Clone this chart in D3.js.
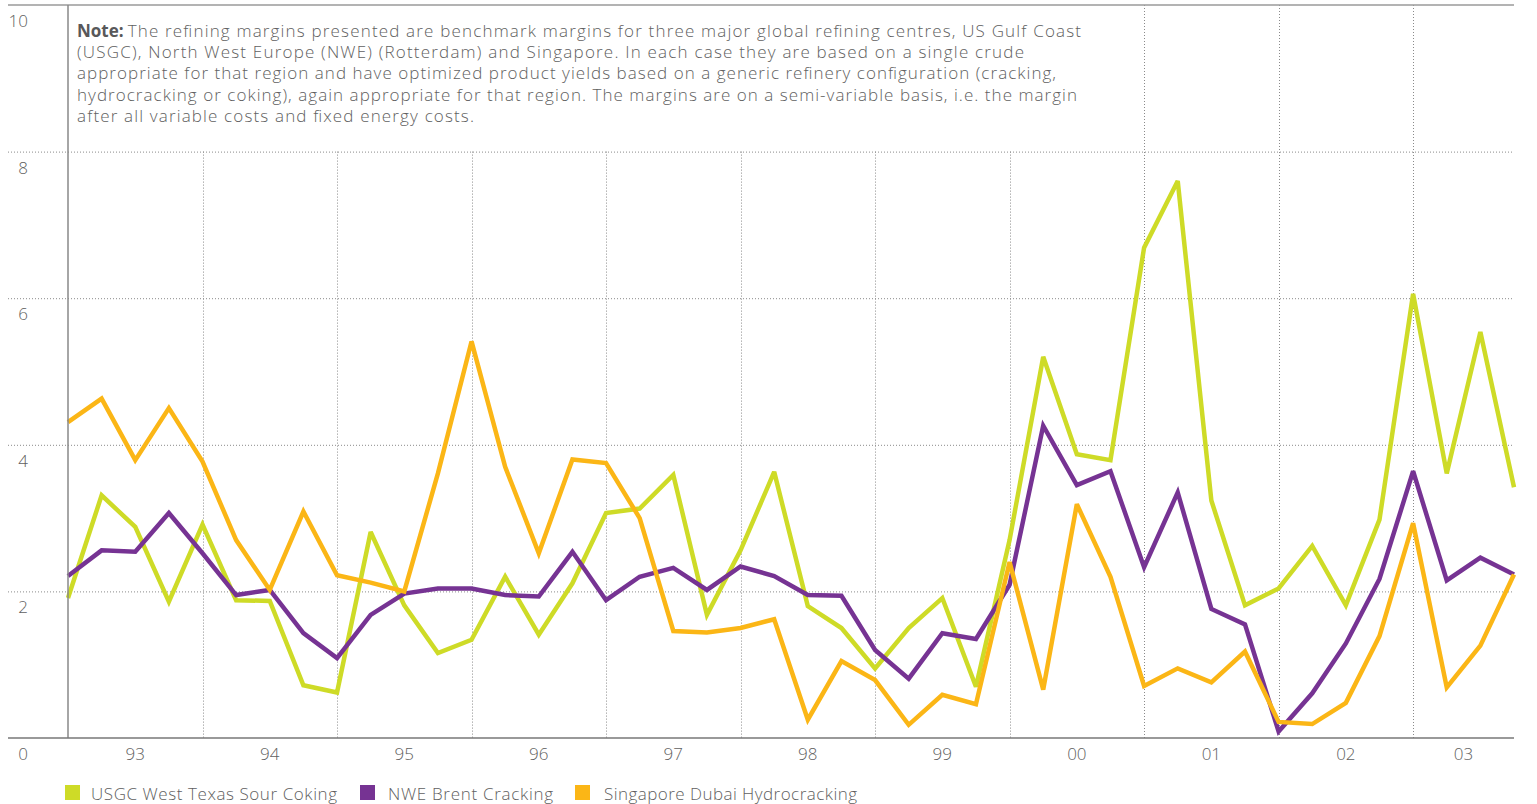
<!DOCTYPE html>
<html>
<head>
<meta charset="utf-8">
<script src="https://cdn.jsdelivr.net/npm/d3@7/dist/d3.min.js"></script>
<style>
  html, body { margin: 0; padding: 0; background: #ffffff; }
  svg { display: block; }
  text { font-family: "Open Sans", Roboto, "Liberation Sans", sans-serif; font-weight: 300; fill: #5f5f61; }
</style>
</head>
<body>
<svg id="chart" width="1537" height="804"></svg>
<script>
// ---- Data (quarterly benchmark refining margins, $/bbl) ----
const years = ["93","94","95","96","97","98","99","00","01","02","03"];
const quarters = years.flatMap(y => ["Q1","Q2","Q3","Q4"].map(q => y + q)).slice(0, 44);
const usgcWestTexasSourCoking = [1.91,3.31,2.88,1.86,2.91,1.88,1.87,0.72,0.62,2.81,1.81,1.16,1.34,2.20,
  1.41,2.11,3.07,3.13,3.59,1.68,2.56,3.63,1.80,1.50,0.95,1.50,1.91,0.70,
  2.70,5.20,3.87,3.79,6.69,7.60,3.24,1.81,2.04,2.62,1.81,2.98,6.06,3.61,5.54,3.42];
const nweBrentCracking = [2.21,2.56,2.54,3.07,2.52,1.95,2.02,1.43,1.09,1.68,1.97,2.04,2.04,1.95,
  1.93,2.54,1.88,2.20,2.32,2.02,2.34,2.21,1.95,1.94,1.20,0.81,1.43,1.35,
  2.09,4.26,3.45,3.64,2.33,3.35,1.76,1.55,0.09,0.61,1.29,2.17,3.64,2.15,2.46,2.23];
const singaporeDubaiHydrocracking = [4.31,4.63,3.79,4.50,3.77,2.70,2.02,3.09,2.22,2.12,2.00,3.61,5.41,3.70,
  2.52,3.80,3.75,3.00,1.46,1.44,1.50,1.62,0.25,1.05,0.79,0.18,0.59,0.46,
  2.40,0.66,3.19,2.20,0.71,0.95,0.76,1.18,0.22,0.19,0.48,1.39,2.93,0.69,1.26,2.23];
const yTicks = [0, 2, 4, 6, 8, 10];
const seriesNames = ["USGC West Texas Sour Coking", "NWE Brent Cracking", "Singapore Dubai Hydrocracking"];
const seriesColors = ["#cedb27", "#763393", "#fbb616"];
const noteBold = "Note:";
const noteLines = [
  "The refining margins presented are benchmark margins for three major global refining centres, US Gulf Coast",
  "(USGC), North West Europe (NWE) (Rotterdam) and Singapore. In each case they are based on a single crude",
  "appropriate for that region and have optimized product yields based on a generic refinery configuration (cracking,",
  "hydrocracking or coking), again appropriate for that region. The margins are on a semi-variable basis, i.e. the margin",
  "after all variable costs and fixed energy costs."
];

// ---- Layout ----
const svg = d3.select("#chart");
const mLeft = 68, mRight = 1514, mTop = 5, mBottom = 738, labelRight = 28;
const x = d3.scaleLinear().domain([0, quarters.length - 1]).range([mLeft, mRight]);
const y = d3.scaleLinear().domain([0, 10]).range([mBottom, mTop]);
const noteRight = 1100;
const fs = 17;

// horizontal dotted gridlines
svg.append("g").selectAll("line").data(yTicks.filter(t => t > 0 && t < 10)).join("line")
  .attr("x1", 8).attr("x2", mRight)
  .attr("y1", d => y(d) + 0.5).attr("y2", d => y(d) + 0.5)
  .attr("stroke", "#8a8a8a").attr("stroke-width", 1).attr("stroke-dasharray", "1,2");

// vertical dotted year gridlines
const yearBounds = d3.range(4, quarters.length, 4);
svg.append("g").selectAll("line").data(yearBounds).join("line")
  .attr("x1", d => Math.round(x(d)) + 0.5).attr("x2", d => Math.round(x(d)) + 0.5)
  .attr("y1", d => x(d) > noteRight ? y(10) : y(8)).attr("y2", y(0))
  .attr("stroke", "#8a8a8a").attr("stroke-width", 1).attr("stroke-dasharray", "1,2");

// top solid line at 10
svg.append("line").attr("x1", 8).attr("x2", mRight).attr("y1", y(10)).attr("y2", y(10))
  .attr("stroke", "#9a9a9a").attr("stroke-width", 1.5);

// y tick labels
svg.append("g").selectAll("text").data(yTicks).join("text")
  .attr("x", labelRight).attr("y", d => y(d) + 22).attr("text-anchor", "end")
  .attr("font-size", fs).text(d => d);

// x year labels (centred in each year's visible span)
svg.append("g").selectAll("text").data(years).join("text")
  .attr("x", (d, i) => (x(i * 4) + x(Math.min(i * 4 + 4, quarters.length - 1))) / 2)
  .attr("y", y(0) + 22).attr("text-anchor", "middle")
  .attr("font-size", fs).text(d => d);

// lines
const line = d3.line().x((d, i) => x(i)).y(d => y(d));
const allSeries = [usgcWestTexasSourCoking, nweBrentCracking, singaporeDubaiHydrocracking];
svg.append("g").selectAll("path").data(allSeries).join("path")
  .attr("d", d => line(d)).attr("fill", "none")
  .attr("stroke", (d, i) => seriesColors[i]).attr("stroke-width", 4.5)
  .attr("stroke-linejoin", "miter").attr("stroke-miterlimit", 3);

// axes lines
svg.append("line").attr("x1", mLeft).attr("x2", mLeft).attr("y1", y(10)).attr("y2", y(0))
  .attr("stroke", "#888").attr("stroke-width", 1.5);
svg.append("line").attr("x1", 8).attr("x2", mRight).attr("y1", y(0)).attr("y2", y(0))
  .attr("stroke", "#777").attr("stroke-width", 1.5);

// note text
const noteX = 77, noteY = 36.5, noteLH = 21.4;
const noteEnds = [1081, 1024, 1056, 1077, 474];
const bold = svg.append("text").attr("x", noteX).attr("y", noteY).attr("font-size", fs)
  .style("font-weight", 700).style("fill", "#58585a").text(noteBold);
const boldW = bold.node().getComputedTextLength() + 4;
noteLines.forEach((t, i) => {
  const sx = i === 0 ? noteX + boldW : noteX;
  svg.append("text").attr("x", sx).attr("y", noteY + i * noteLH).attr("font-size", fs)
    .attr("textLength", noteEnds[i] - sx).attr("lengthAdjust", "spacing").text(t);
});

// legend
const legendX = [65, 360, 575];
const legendTextX = [91, 388, 604];
const legendTextEnd = [337, 553, 857];
const lg = svg.append("g").selectAll("g").data(seriesNames).join("g");
lg.append("rect").attr("x", (d, i) => legendX[i]).attr("y", 785)
  .attr("width", 15).attr("height", 15).attr("fill", (d, i) => seriesColors[i]);
lg.append("text").attr("x", (d, i) => legendTextX[i]).attr("y", 800).attr("font-size", fs)
  .attr("textLength", (d, i) => legendTextEnd[i] - legendTextX[i]).attr("lengthAdjust", "spacing")
  .text(d => d);
</script>
</body>
</html>
